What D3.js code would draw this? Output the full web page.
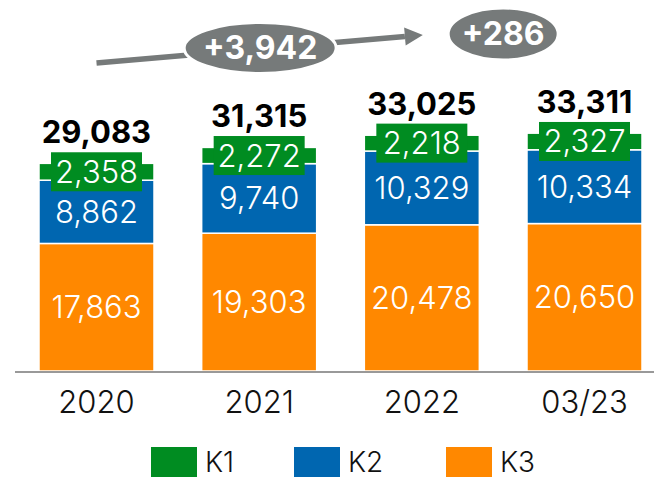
<!DOCTYPE html>
<html>
<head>
<meta charset="utf-8">
<script src="https://cdn.jsdelivr.net/npm/d3@7"></script>
<style>
html,body{margin:0;padding:0;background:#fff;}
svg{display:block;font-family:"Inter","Open Sans",sans-serif;}
</style>
</head>
<body>
<svg id="chart" width="654" height="477"></svg>
<script>
const categories = ["2020", "2021", "2022", "03/23"];
const seriesNames = ["K3", "K2", "K1"];
const k3 = [17863, 19303, 20478, 20650];
const k2 = [8862, 9740, 10329, 10334];
const k1 = [2358, 2272, 2218, 2327];
const totals = [29083, 31315, 33025, 33311];
const changeLabels = ["+3,942", "+286"];
const legendNames = ["K1", "K2", "K3"];
const colors = {K1: "#008c21", K2: "#0066b0", K3: "#ff8800"};
const gray = "#767a7a";

const svg = d3.select("#chart");
const fmt = d3.format(",");

const x = d3.scaleBand().domain(categories).range([15, 666]).paddingInner(0.293).paddingOuter(0.1475);
const y = d3.scaleLinear().domain([0, 50000]).range([371, 14]);

const rows = categories.map((c, i) => ({cat: c, K3: k3[i], K2: k2[i], K1: k1[i], total: totals[i]}));
const stacked = d3.stack().keys(seriesNames)(rows);

// bars
const g = svg.append("g");
stacked.forEach(layer => {
  g.selectAll(null).data(layer).join("rect")
    .attr("x", d => x(d.data.cat))
    .attr("y", d => y(d[1]))
    .attr("width", x.bandwidth())
    .attr("height", d => y(d[0]) - y(d[1]))
    .attr("fill", colors[layer.key])
    .attr("stroke", "#fff")
    .attr("stroke-width", 1.5);
});

// axis
const axis = svg.append("g").attr("transform", `translate(0,${y(0)})`)
  .call(d3.axisBottom(x).tickSize(0).tickPadding(0));
axis.select(".domain").remove();
axis.selectAll("text").attr("font-size", 31).attr("font-weight", 300).attr("fill", "#111").attr("dy", null).attr("y", 42)
  .style("font-family", '"Inter","Open Sans",sans-serif');
svg.append("line").attr("x1", 15).attr("x2", 654).attr("y1", y(0) + 1).attr("y2", y(0) + 1)
  .attr("stroke", "#999").attr("stroke-width", 2);

// labels in K3 and K2
["K3", "K2"].forEach(key => {
  const layer = stacked.find(l => l.key === key);
  svg.selectAll(null).data(layer).join("text")
    .attr("x", d => x(d.data.cat) + x.bandwidth() / 2)
    .attr("y", d => (y(d[0]) + y(d[1])) / 2 + 11)
    .attr("text-anchor", "middle")
    .attr("font-size", 31).attr("font-weight", 300).attr("fill", "#fff")
    .text(d => fmt(d.data[key]));
});

// K1 label boxes
const l1 = stacked.find(l => l.key === "K1");
svg.selectAll(null).data(l1).join("rect")
  .attr("x", d => x(d.data.cat) + x.bandwidth() / 2 - 45.5)
  .attr("y", d => (y(d[0]) + y(d[1])) / 2 - 19.5)
  .attr("width", 91).attr("height", 39)
  .attr("fill", colors.K1);
svg.selectAll(null).data(l1).join("text")
  .attr("x", d => x(d.data.cat) + x.bandwidth() / 2)
  .attr("y", d => (y(d[0]) + y(d[1])) / 2 + 11)
  .attr("text-anchor", "middle")
  .attr("font-size", 31).attr("font-weight", 300).attr("fill", "#fff")
  .text(d => fmt(d.data.K1));

// totals
svg.selectAll(null).data(rows).join("text")
  .attr("x", d => x(d.cat) + x.bandwidth() / 2)
  .attr("y", d => y(d.total) - 20)
  .attr("text-anchor", "middle")
  .attr("font-size", 31).attr("font-weight", 700).attr("fill", "#000")
  .text(d => fmt(d.total));

// arrow annotation
const cx = c => x(c) + x.bandwidth() / 2;
const ax0 = cx("2020"), ay0 = 63, ax1 = cx("2022") + 1, ay1 = 35;
const ang = Math.atan2(ay1 - ay0, ax1 - ax0);
const headLen = 18, headW = 9;
const bx = ax1 - headLen * Math.cos(ang), by = ay1 - headLen * Math.sin(ang);
svg.append("line").attr("x1", ax0).attr("y1", ay0).attr("x2", bx).attr("y2", by)
  .attr("stroke", gray).attr("stroke-width", 5.5);
const px = -Math.sin(ang), py = Math.cos(ang);
svg.append("path")
  .attr("d", `M${ax1},${ay1}L${bx + px * headW},${by + py * headW}L${bx - px * headW},${by - py * headW}Z`)
  .attr("fill", gray);

const bubbles = [
  {label: changeLabels[0], cx: cx("2021") + 1, cy: 48, rx: 76, ry: 25.5},
  {label: changeLabels[1], cx: (cx("2022") + cx("03/23")) / 2, cy: 34, rx: 55, ry: 26}
];
svg.selectAll(null).data(bubbles).join("ellipse")
  .attr("cx", d => d.cx).attr("cy", d => d.cy).attr("rx", d => d.rx).attr("ry", d => d.ry)
  .attr("fill", gray).attr("stroke", "#fff").attr("stroke-width", 3);
svg.selectAll(null).data(bubbles).join("text")
  .attr("x", d => d.cx).attr("y", d => d.cy + 11)
  .attr("text-anchor", "middle").attr("font-size", 32).attr("font-weight", 700).attr("fill", "#fff")
  .text(d => d.label);

// legend
const legendX = [151, 294, 446];
const lg = svg.selectAll(null).data(legendNames).join("g")
  .attr("transform", (d, i) => `translate(${legendX[i]},447)`);
lg.append("rect").attr("width", 46).attr("height", 32).attr("fill", d => colors[d]);
lg.append("text").attr("x", 54).attr("y", 25).attr("font-size", 28).attr("font-weight", 300).attr("fill", "#111").text(d => d);
</script>
</body>
</html>
